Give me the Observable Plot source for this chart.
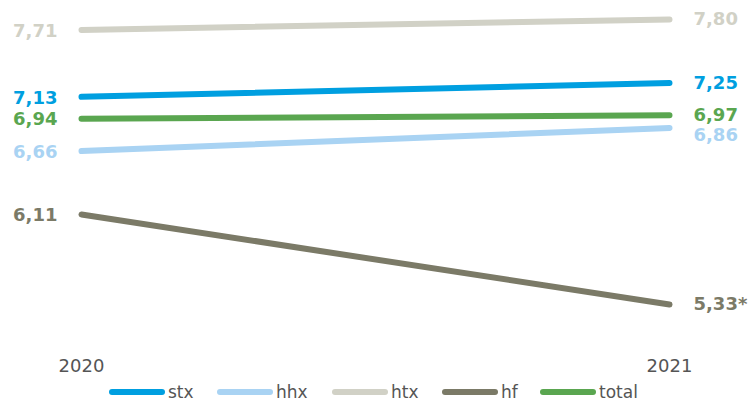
<!DOCTYPE html>
<html><head><meta charset="utf-8">
<script src="https://cdn.jsdelivr.net/npm/d3@7"></script>
<script src="https://cdn.jsdelivr.net/npm/@observablehq/plot@0.6"></script>
<style>
body{margin:0;background:#fff;font-family:"DejaVu Sans",Verdana,sans-serif;}
#wrap{position:relative;width:750px;height:403px;}
#legend{position:absolute;left:0;top:381px;width:750px;height:22px;font-size:17px;color:#555;}
.item{position:absolute;top:0;display:flex;align-items:center;height:22px;}
.sw{width:56px;height:6px;border-radius:3px;margin-right:3px;}
</style>
</head><body>
<div id="wrap"><div id="chart"></div><div id="legend"></div></div>
<script>
const years = [2020, 2021];
const series = ["stx", "hhx", "htx", "hf", "total"];
const colors = ["#009fe0", "#a9d3f3", "#d1d1c6", "#7b7a67", "#5aa650"];
const stx = [7.13, 7.25];
const hhx = [6.66, 6.86];
const htx = [7.71, 7.80];
const hf = [6.11, 5.33];
const total = [6.94, 6.97];
const startLabels = ["7,13", "6,66", "7,71", "6,11", "6,94"];
const endLabels = ["7,25", "6,86", "7,80", "5,33*", "6,97"];

const valuesBySeries = {stx, hhx, htx, hf, total};
const rows = [];
series.forEach((s, i) => years.forEach((yr, j) => rows.push({series: s, year: yr, value: valuesBySeries[s][j], color: colors[i]})));
const starts = series.map((s, i) => ({series: s, year: years[0], value: valuesBySeries[s][0], label: startLabels[i], color: colors[i]}));
const ends = series.map((s, i) => ({series: s, year: years[1], value: valuesBySeries[s][1], label: endLabels[i], color: colors[i]}));

const plot = Plot.plot({
  width: 750,
  height: 381,
  marginTop: 0, marginBottom: 25, marginLeft: 0, marginRight: 0,
  x: {domain: years, type: "linear", range: [81, 669], axis: null},
  y: {domain: [5.33, 7.80], range: [304, 19], axis: null},
  style: {fontFamily: "DejaVu Sans, Verdana, sans-serif"},
  marks: [
    Plot.axisX({ticks: years, tickSize: 0, tickPadding: 3, tickFormat: d => String(d), fontSize: 18, fill: "#555", label: null}),
    Plot.line(rows, {x: "year", y: "value", z: "series", stroke: "color", strokeWidth: 6, strokeLinecap: "round"}),
    Plot.text(starts, {x: "year", y: "value", text: "label", fill: "color", textAnchor: "end", dx: -24, dy: 1, fontSize: 18, fontWeight: "bold"}),
    Plot.text(ends.filter(d => d.series !== "hhx"), {x: "year", y: "value", text: "label", fill: "color", textAnchor: "start", dx: 24, dy: 0, fontSize: 18, fontWeight: "bold"}),
    Plot.text(ends.filter(d => d.series === "hhx"), {x: "year", y: "value", text: "label", fill: "color", textAnchor: "start", dx: 24, dy: 7, fontSize: 18, fontWeight: "bold"})
  ]
});
document.getElementById("chart").appendChild(plot);

const legend = document.getElementById("legend");
const lefts = [109, 217, 332, 442, 540];
series.forEach((s, i) => {
  const it = document.createElement("div");
  it.className = "item";
  it.style.left = lefts[i] + "px";
  it.innerHTML = `<span class="sw" style="background:${colors[i]}"></span><span>${s}</span>`;
  legend.appendChild(it);
});
</script>
</body></html>
